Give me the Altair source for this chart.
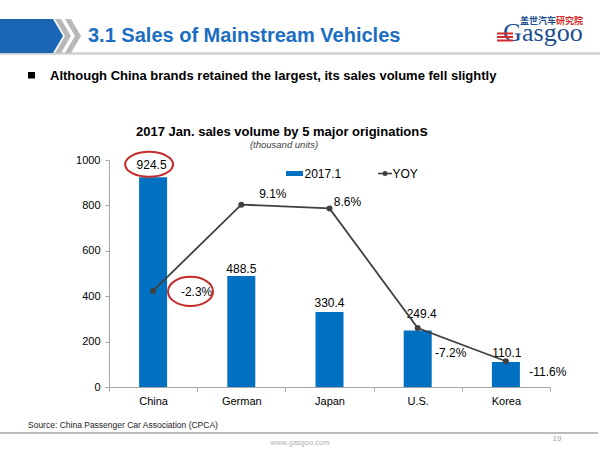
import altair as alt
import pandas as pd

# ---------------- data ----------------
categories = ["China", "German", "Japan", "U.S.", "Korea"]
sales = [924.5, 488.5, 330.4, 249.4, 110.1]
yoy = [-2.3, 9.1, 8.6, -7.2, -11.6]
y_ticks = [0, 200, 400, 600, 800, 1000]

# label offsets (style only)
bar_label_dx = [-1.5, 0, 0, 4, 1]
bar_label_dy = [-8, -3.5, -4.5, -12, -5.5]
yoy_label_dx = [43.5, 31.5, 18, 33, 42]
yoy_label_dy = [1, -11, -6.5, 25.5, 11]

df = pd.DataFrame({
    "cat": categories,
    "sales": sales,
    "yoy": yoy,
    "sales_label": [f"{v:.1f}" for v in sales],
    "yoy_label": [f"{v:.1f}%" for v in yoy],
})

FONT = "Liberation Sans, Arial, Helvetica, sans-serif"
BLUE_BAR = "#0070c0"
LINE_C = "#404040"
RED = "#c42b2b"
AXIS_C = "#a6a6a6"

L, T, W, H = 109, 160, 441, 227
R = 600 - L - W
B = 450 - T - H


def px(x):
    return x - L


def py(y):
    return y - T


one = alt.Data(values=[{}])

x_enc = alt.X(
    "cat:N", sort=categories, title=None,
    scale=alt.Scale(paddingInner=0, paddingOuter=0),
    axis=alt.Axis(labelAngle=0, labelFont=FONT, labelFontSize=11, labelColor="#000",
                  tickBand="extent", tickSize=4, labelPadding=4,
                  domainColor=AXIS_C, tickColor=AXIS_C, grid=False),
)
y_enc = alt.Y(
    "sales:Q", title=None,
    scale=alt.Scale(domain=[0, 1000], nice=False),
    axis=alt.Axis(values=y_ticks, format="d", grid=False, labelFont=FONT, labelFontSize=11,
                  labelColor="#000", tickSize=4, labelPadding=5,
                  domainColor=AXIS_C, tickColor=AXIS_C),
)
y2_enc = alt.Y("yoy:Q", title=None, scale=alt.Scale(domain=[-15, 15], nice=False), axis=None)

base = alt.Chart(df)

bars = base.mark_bar(color=BLUE_BAR, width=28).encode(x=x_enc, y=y_enc)
bar_labels = [
    base.transform_filter(alt.datum.cat == c)
    .mark_text(font=FONT, fontSize=12, color="#000", baseline="alphabetic",
               dx=bar_label_dx[i], dy=bar_label_dy[i])
    .encode(x=x_enc, y=y_enc, text="sales_label:N")
    for i, c in enumerate(categories)
]
ell1 = (
    base.transform_filter(alt.datum.cat == "China")
    .mark_point(shape="M-1,0 A1,0.52 0 1,0 1,0 A1,0.52 0 1,0 -1,0 Z",
                size=48 ** 2, filled=False, color=RED, strokeWidth=2, opacity=1,
                xOffset=-4, yOffset=-12.8)
    .encode(x=x_enc, y=y_enc)
)
bar_layer = alt.layer(bars, *bar_labels, ell1)

line = base.mark_line(color=LINE_C, strokeWidth=1.8).encode(x=x_enc, y=y2_enc)
pts = base.mark_point(filled=True, size=36, color=LINE_C, opacity=1).encode(x=x_enc, y=y2_enc)
yoy_labels = [
    base.transform_filter(alt.datum.cat == c)
    .mark_text(font=FONT, fontSize=12, color="#000", baseline="middle",
               dx=yoy_label_dx[i], dy=yoy_label_dy[i])
    .encode(x=x_enc, y=y2_enc, text="yoy_label:N")
    for i, c in enumerate(categories)
]
ell2 = (
    base.transform_filter(alt.datum.cat == "China")
    .mark_point(shape="M-1,0 A1,0.65 0 1,0 1,0 A1,0.65 0 1,0 -1,0 Z",
                size=45 ** 2, filled=False, color=RED, strokeWidth=2, opacity=1,
                xOffset=37.4, yOffset=0.5)
    .encode(x=x_enc, y=y2_enc)
)
line_layer = alt.layer(line, pts, *yoy_labels, ell2)


# ---------------- decorations ----------------
def txt(s, x, y, size, color="#000", weight="normal", align="left", baseline="alphabetic",
        style="normal", font=FONT):
    return alt.Chart(one).mark_text(
        font=font, fontSize=size, color=color, fontWeight=weight, align=align,
        baseline=baseline, fontStyle=style,
    ).encode(x=alt.value(px(x)), y=alt.value(py(y)), text=alt.value(s))


def shape(path, color):
    return alt.Chart(one).mark_point(
        shape=path, size=4, filled=True, color=color, opacity=1, strokeWidth=0
    ).encode(x=alt.value(px(0)), y=alt.value(py(0)))


def hrule(x1, x2, y, color, width):
    return alt.Chart(one).mark_rule(color=color, strokeWidth=width).encode(
        x=alt.value(px(x1)), x2=alt.value(px(x2)), y=alt.value(py(y)))


SERIF = "Liberation Serif, Times New Roman, serif"
decor = [
    hrule(0, 600, 53.5, "#d0d0d0", 2.5),
    shape("M0,19 L53,19 L63,36 L53,53 L0,53 Z", "#1a66b5"),
    shape("M55,19 L61,19 L71,36 L61,53 L55,53 L65,36 Z", "#b8b8b8"),
    shape("M65,19 L71,19 L81,36 L71,53 L65,53 L75,36 Z", "#b8b8b8"),
    txt("3.1 Sales of Mainstream Vehicles", 88, 41.5, 20, "#1b6ec2", "bold"),
    # logo
    txt("G", 503, 41, 26, "#1d4f8f", font=SERIF),
    txt("asgoo", 522, 41, 26, "#1d4f8f", font=SERIF),
    hrule(497, 513, 33.5, "#d12b2b", 2),
    hrule(497, 513, 37, "#d12b2b", 2),
    hrule(497, 513, 40.5, "#d12b2b", 2),
    txt("盖世汽车", 520, 20.5, 9, "#1d4f8f", "bold", baseline="middle", font="Noto Sans CJK SC"),
    txt("研究院", 556, 20.5, 9, "#d12b2b", "bold", baseline="middle", font="Noto Sans CJK SC"),
    # bullet
    alt.Chart(one).mark_rect(color="#000").encode(
        x=alt.value(px(28)), x2=alt.value(px(35)), y=alt.value(py(72)), y2=alt.value(py(78.5))),
    txt("Although China brands retained the largest, its sales volume fell slightly",
        50, 80, 13, "#000", "bold"),
    # chart titles
    txt("2017 Jan. sales volume by 5 major origination", 136, 135.5, 13, "#000", "bold"),
    txt("s", 419.5, 135.5, 15, "#000", "bold"),
    txt("(thousand units)", 284, 147.5, 9.5, "#404040", align="center", style="italic"),
    # legend
    alt.Chart(one).mark_rect(color=BLUE_BAR).encode(
        x=alt.value(px(286)), x2=alt.value(px(303)), y=alt.value(py(171)), y2=alt.value(py(176))),
    txt("2017.1", 304.5, 173.5, 12, "#000", baseline="middle"),
    hrule(378, 392, 173.5, LINE_C, 1.6),
    alt.Chart(one).mark_point(filled=True, size=25, color=LINE_C, opacity=1).encode(
        x=alt.value(px(385)), y=alt.value(py(173.5))),
    txt("YOY", 392.5, 173.5, 12, "#000", baseline="middle"),
    # footer
    txt("Source: China Passenger Car Association (CPCA)", 28, 425, 8.5, "#222", baseline="middle"),
    hrule(0, 598, 433, "#a6a6a6", 1.5),
    txt("www.gasgoo.com", 300, 443, 7.5, "#b0b0b0", align="center", baseline="middle"),
    txt("19", 557, 439, 8, "#a0a0a0", align="center", baseline="middle"),
]

chart = (
    alt.layer(bar_layer, line_layer, *decor)
    .resolve_scale(y="independent")
    .properties(
        width=W, height=H,
        padding={"left": L, "top": T, "right": R, "bottom": B},
        autosize=alt.AutoSizeParams(type="none"),
        background="white",
    )
    .configure_view(stroke=None)
)

chart.save("out.html", embed_options={"renderer": "svg", "actions": False})
